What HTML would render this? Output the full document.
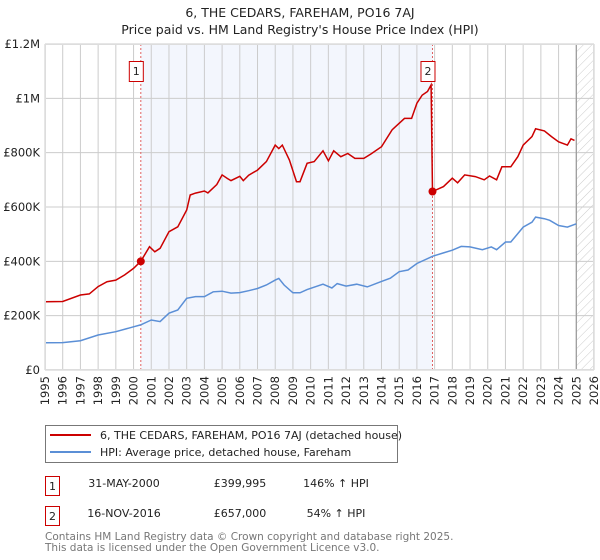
<!DOCTYPE html>
<html><head><meta charset="utf-8"><style>
body{margin:0;background:#fff;}
svg{display:block;font-family:"DejaVu Sans","Liberation Sans",sans-serif;}
</style></head><body>
<svg id="chart" width="600" height="560" viewBox="0 0 600 560">
<defs>
<pattern id="hatch" width="6" height="6" patternUnits="userSpaceOnUse" patternTransform="rotate(45)">
<line x1="0" y1="0" x2="0" y2="6" stroke="#ccc" stroke-width="1"/>
</pattern>
</defs>
<text x="300" y="17" text-anchor="middle" font-size="12.5" fill="#222">6, THE CEDARS, FAREHAM, PO16 7AJ</text>
<text x="300" y="34" text-anchor="middle" font-size="12.5" fill="#222">Price paid vs. HM Land Registry's House Price Index (HPI)</text>
<g id="grid"></g>
<g id="series"></g>
<g id="axes"></g>
<g>
<rect x="45.5" y="425.5" width="352" height="37" fill="#fff" stroke="#777"/>
<line x1="50" y1="435" x2="91" y2="435" stroke="#cc0000" stroke-width="2"/>
<text x="100" y="439" font-size="11" fill="#222">6, THE CEDARS, FAREHAM, PO16 7AJ (detached house)</text>
<line x1="50" y1="452" x2="91" y2="452" stroke="#5b8fd6" stroke-width="2"/>
<text x="100" y="456" font-size="11" fill="#222">HPI: Average price, detached house, Fareham</text>
</g>
<g font-size="11" fill="#222">
<rect x="45.5" y="476.5" width="14" height="19" fill="#fff" stroke="#cc0000"/>
<text x="52.5" y="490" text-anchor="middle">1</text>
<text x="124" y="487" text-anchor="middle">31-MAY-2000</text>
<text x="240" y="487" text-anchor="middle">£399,995</text>
<text x="336" y="487" text-anchor="middle">146% ↑ HPI</text>
<rect x="45.5" y="506.5" width="14" height="19" fill="#fff" stroke="#cc0000"/>
<text x="52.5" y="520" text-anchor="middle">2</text>
<text x="124" y="517" text-anchor="middle">16-NOV-2016</text>
<text x="240" y="517" text-anchor="middle">£657,000</text>
<text x="336" y="517" text-anchor="middle">54% ↑ HPI</text>
</g>
<text x="45" y="540" font-size="10.5" fill="#777">Contains HM Land Registry data © Crown copyright and database right 2025.</text>
<text x="45" y="551" font-size="10.5" fill="#777">This data is licensed under the Open Government Licence v3.0.</text>
</svg>
<script>
const hpiYears=[1995,1996,1997,1998,1999,2000,2000.4,2001,2001.5,2002,2002.5,2003,2003.5,2004,2004.5,2005,2005.5,2006,2006.5,2007,2007.5,2008,2008.2,2008.5,2009,2009.4,2009.8,2010.7,2011.2,2011.5,2012,2012.6,2013.2,2014,2014.5,2015,2015.5,2016,2016.9,2017.5,2018,2018.5,2019,2019.7,2020.2,2020.5,2021,2021.3,2021.7,2022,2022.5,2022.7,2023.2,2023.5,2024,2024.5,2025];
const hpiValues=[100,101,108,129,141,159,166,184,178,209,221,264,270,270,288,290,283,285,292,300,313,331,337,313,284,284,296,316,302,318,309,316,306,326,338,362,368,392,419,431,441,455,453,443,453,443,471,471,502,526,544,563,557,551,532,526,538];
const priceYears=[1995,1996,1997,1997.5,1998,1998.5,1999,1999.5,2000,2000.41,2000.9,2001.2,2001.5,2002,2002.5,2003,2003.2,2003.5,2004,2004.2,2004.7,2005,2005.3,2005.5,2006,2006.2,2006.5,2007,2007.5,2008,2008.2,2008.4,2008.8,2009.2,2009.4,2009.8,2010.2,2010.7,2011,2011.3,2011.7,2012.1,2012.5,2013,2013.4,2014,2014.6,2015.3,2015.7,2016,2016.3,2016.6,2016.8,2016.88,2017.5,2018,2018.3,2018.7,2019.3,2019.8,2020.1,2020.5,2020.8,2021.3,2021.7,2022,2022.5,2022.7,2023.2,2023.6,2024,2024.5,2024.7,2024.9];
const priceValues=[251,252,276,280,307,325,331,350,374,400,454,435,448,509,527,589,644,651,659,652,683,718,705,697,713,697,717,736,767,828,815,828,773,693,693,761,767,807,770,807,785,797,779,779,795,822,884,926,926,982,1012,1025,1049,657,675,706,689,718,712,700,714,700,748,748,785,828,859,888,880,859,840,828,851,845];
const saleYears=[2000.41,2016.88];
const saleValues=[400,657];
const saleLabels=["1","2"];
const yTicks=[0,200,400,600,800,1000,1200];
const yTickLabels=["£0","£200K","£400K","£600K","£800K","£1M","£1.2M"];
const xTicks=[1995,1996,1997,1998,1999,2000,2001,2002,2003,2004,2005,2006,2007,2008,2009,2010,2011,2012,2013,2014,2015,2016,2017,2018,2019,2020,2021,2022,2023,2024,2025,2026];

const NS="http://www.w3.org/2000/svg";
const L=45,R=594,T=44,B=370;
const X=y=>L+(y-1995)/(2026-1995)*(R-L);
const Y=v=>B-v/1200*(B-T);
function mk(tag,attrs,parent){const e=document.createElementNS(NS,tag);for(const k in attrs)e.setAttribute(k,attrs[k]);parent.appendChild(e);return e;}
const grid=document.getElementById('grid'),series=document.getElementById('series'),axes=document.getElementById('axes');

let r=mk('rect',{x:X(saleYears[0]),y:T,width:X(saleYears[1])-X(saleYears[0]),height:B-T,fill:'#f3f6fd'},grid);


r=mk('rect',{x:X(2025),y:T,width:R-X(2025),height:B-T,fill:'url(#hatch)'},grid);


xTicks.forEach(t=>{const l=mk('line',{x1:X(t),x2:X(t),y1:T,y2:B,stroke:'#ccc','stroke-width':1},grid);


const tx=mk('text',{x:0,y:0,'font-size':11.5,fill:'#222','text-anchor':'end',transform:`translate(${X(t)+4},${B+6}) rotate(-90)`},axes);tx.textContent=t;

});
yTicks.forEach((t,i)=>{const l=mk('line',{x1:L,x2:R,y1:Y(t),y2:Y(t),stroke:'#ccc','stroke-width':1},grid);


const tx=mk('text',{x:L-5,y:Y(t)+4,'font-size':11.5,fill:'#222','text-anchor':'end'},axes);tx.textContent=yTickLabels[i];

});
const v=mk('line',{x1:X(2025),x2:X(2025),y1:T,y2:B,stroke:'#999','stroke-width':1.2},grid);


saleYears.forEach((s,i)=>{const l=mk('line',{x1:X(s),x2:X(s),y1:T,y2:B,stroke:'#e06060','stroke-width':1,'stroke-dasharray':'2,2'},grid);

});

const hp=mk('path',{d:hpiYears.map((y,i)=>(i?'L':'M')+X(y).toFixed(1)+','+Y(hpiValues[i]).toFixed(1)).join(''),fill:'none',stroke:'#5b8fd6','stroke-width':1.5},series);


const pp=mk('path',{d:priceYears.map((y,i)=>(i?'L':'M')+X(y).toFixed(1)+','+Y(priceValues[i]).toFixed(1)).join(''),fill:'none',stroke:'#cc0000','stroke-width':1.5},series);


saleYears.forEach((s,i)=>{const c=mk('circle',{cx:X(s),cy:Y(saleValues[i]),r:4,fill:'#cc0000'},series);


const bx=mk('rect',{x:X(s)-11.5,y:61.5,width:14,height:20,fill:'#fff',stroke:'#cc0000'},series);


const t=mk('text',{x:X(s)-4.5,y:75,'font-size':11,fill:'#222','text-anchor':'middle'},series);t.textContent=saleLabels[i];

});
const f=mk('rect',{x:L+0.5,y:T+0.5,width:R-L-1,height:B-T-1,fill:'none',stroke:'#ddd'},axes);


</script>
</body></html>
